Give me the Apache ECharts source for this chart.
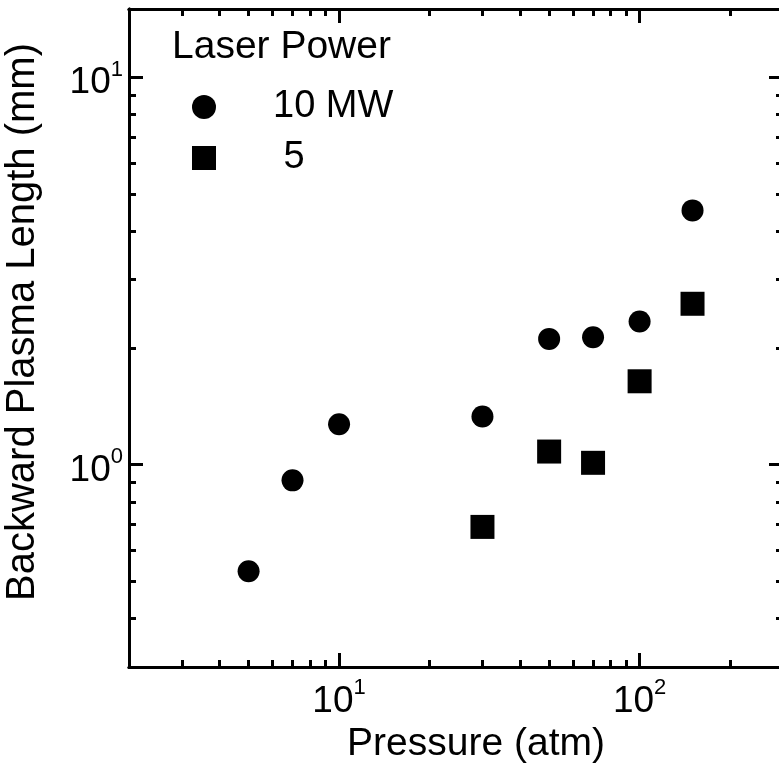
<!DOCTYPE html>
<html>
<head>
<meta charset="UTF-8">
<title></title>
<style>
  html, body { margin: 0; padding: 0; background: #fff; }
  #chart { width: 779px; height: 774px; }
</style>
<script src="https://cdn.jsdelivr.net/npm/echarts@6/dist/echarts.min.js"></script>
</head>
<body>
<div id="chart"></div>
<script>
// data
var pressure10 = [5, 7, 10, 30, 50, 70, 100, 150];
var length10 = [0.53, 0.91, 1.27, 1.33, 2.11, 2.13, 2.34, 4.53];
var pressure5 = [30, 50, 70, 100, 150];
var length5 = [0.69, 1.08, 1.01, 1.64, 2.60];

var xMajor = [10, 100];
var xMinor = [2, 3, 4, 5, 6, 7, 8, 9, 20, 30, 40, 50, 60, 70, 80, 90, 200];
var yMajor = [1, 10];
var yMinor = [0.3, 0.4, 0.5, 0.6, 0.7, 0.8, 0.9, 2, 3, 4, 5, 6, 7, 8, 9];

var FONT = 'Liberation Sans, Arial, sans-serif';

function pairs(xs, ys) {
  return xs.map(function (x, i) { return [x, ys[i]]; });
}

function powLabel(v) {
  return '{b|10}{s|' + Math.round(Math.log10(v)) + '}';
}
var powRich = {
  b: { fontSize: 37, fontFamily: FONT, color: '#000', lineHeight: 37, padding: [12, 0, 0, 0] },
  s: { fontSize: 22, fontFamily: FONT, color: '#000', lineHeight: 22, verticalAlign: 'top' }
};

// one log axis, only ticks (or labels) at given values
function logAxis(pos, min, max, ticks, len, withLabel, extra) {
  var ax = {
    type: 'log', position: pos, min: min, max: max,
    axisLine: { show: true, lineStyle: { color: '#000', width: 3 } },
    axisTick: { show: true, inside: true, length: len, customValues: ticks,
      lineStyle: { color: '#000', width: 3 } },
    axisLabel: withLabel ? { show: true, customValues: ticks, formatter: powLabel, rich: powRich,
      margin: pos === 'left' ? 6 : 10 } : { show: false },
    splitLine: { show: false },
    minorTick: { show: false }
  };
  for (var k in extra) ax[k] = extra[k];
  return ax;
}

var chart = echarts.init(document.getElementById('chart'));
chart.setOption({
  animation: false,
  title: {
    text: 'Laser Power', left: 172, top: 28, padding: 0,
    textStyle: { fontSize: 39, fontWeight: 'normal', fontFamily: FONT, color: '#000', lineHeight: 39 }
  },
  legend: {
    orient: 'vertical', left: 192, top: 88, padding: 0,
    itemWidth: 24, itemHeight: 24, itemGap: 13,
    formatter: '{t|{name}}',
    textStyle: {
      color: '#000', fontSize: 38, fontFamily: FONT, lineHeight: 38,
      rich: { t: { fontSize: 38, fontFamily: FONT, color: '#000', lineHeight: 38, padding: [0, 0, 0, 52] } }
    },
    data: ['10 MW', ' 5']
  },
  grid: { left: 129, top: 9, width: 654, height: 658, containLabel: false, outerBoundsMode: 'none' },
  xAxis: [
    logAxis('bottom', 2, 300, xMajor, 14, true, {
      name: 'Pressure (atm)', nameLocation: 'middle', nameGap: 55,
      nameTextStyle: { fontSize: 39, fontFamily: FONT, color: '#000', padding: [0, 0, 0, 40] }
    }),
    logAxis('bottom', 2, 300, xMinor, 7, false, {}),
    logAxis('top', 2, 300, xMajor, 14, false, {}),
    logAxis('top', 2, 300, xMinor, 7, false, {})
  ],
  yAxis: [
    logAxis('left', 0.3, 15, yMajor, 14, true, {
      name: 'Backward Plasma Length (mm)', nameLocation: 'middle', nameGap: 86,
      nameTextStyle: { fontSize: 40, fontFamily: FONT, color: '#000', padding: [0, 0, 0, 32] }
    }),
    logAxis('left', 0.3, 15, yMinor, 7, false, {}),
    logAxis('right', 0.3, 15, yMajor, 14, false, {}),
    logAxis('right', 0.3, 15, yMinor, 7, false, {})
  ],
  series: [
    {
      name: '10 MW', type: 'scatter', symbol: 'circle', symbolSize: 22,
      xAxisIndex: 0, yAxisIndex: 0,
      itemStyle: { color: '#000', opacity: 1 },
      data: pairs(pressure10, length10)
    },
    {
      name: ' 5', type: 'scatter', symbol: 'rect', symbolSize: 24,
      xAxisIndex: 0, yAxisIndex: 0,
      itemStyle: { color: '#000', opacity: 1 },
      data: pairs(pressure5, length5)
    }
  ]
});
</script>
</body>
</html>
